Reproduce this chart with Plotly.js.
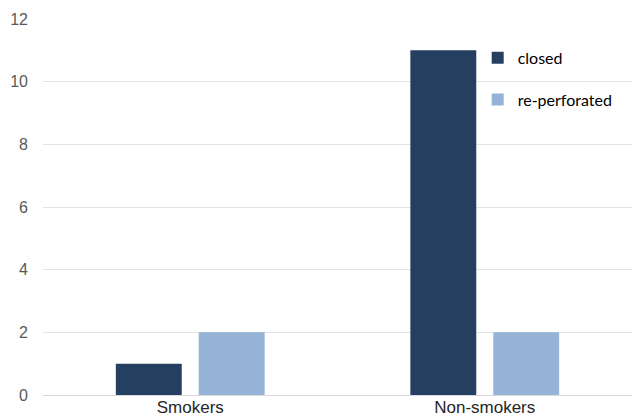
<!DOCTYPE html>
<html>
<head>
<meta charset="utf-8">
<script src="https://cdn.plot.ly/plotly-3.0.1.min.js"></script>
<style>
  html, body { margin: 0; padding: 0; background: #ffffff; }
  #chart { width: 632px; height: 418px; }
</style>
</head>
<body>
<div id="chart"></div>
<script>
// Outcome counts by smoking status
const groups = ["Smokers", "Non-smokers"];
const closedCounts = [1, 11];
const reperforatedCounts = [2, 2];
const yTicks = [0, 2, 4, 6, 8, 10, 12];

const traces = [
  {
    type: "bar",
    name: "closed",
    legendgroup: "a",
    x: groups,
    y: closedCounts,
    marker: { color: "#243F60" },
    hoverinfo: "x+y+name"
  },
  {
    type: "bar",
    name: "re-perforated",
    legendgroup: "b",
    x: groups,
    y: reperforatedCounts,
    marker: { color: "#95B3D7" },
    hoverinfo: "x+y+name"
  }
];

const layout = {
  width: 632,
  height: 418,
  margin: { l: 43, r: 0, t: 19, b: 23 },
  paper_bgcolor: "#ffffff",
  plot_bgcolor: "#ffffff",
  barmode: "group",
  bargap: 0.437,
  bargroupgap: 0.205,
  font: { family: "Liberation Sans, Arial, sans-serif", size: 16, color: "#595959" },
  xaxis: {
    type: "category",
    showgrid: false,
    showline: false,
    ticks: "",
    tickfont: { size: 17, color: "#262626" },
    ticklabelstandoff: 0
  },
  yaxis: {
    range: [0, 12],
    tickvals: yTicks,
    ticktext: yTicks.map(String),
    showgrid: true,
    gridcolor: "#e3e3e3",
    gridwidth: 1,
    zeroline: true,
    zerolinecolor: "#d9d9d9",
    zerolinewidth: 1,
    showline: false,
    ticks: "",
    ticklabelstandoff: 14,
    tickfont: { size: 16, color: "#595959" }
  },
  showlegend: true,
  legend: {
    x: 0.738,
    y: 0.942,
    xanchor: "left",
    yanchor: "top",
    bgcolor: "rgba(255,255,255,0)",
    traceorder: "grouped",
    tracegroupgap: 18,
    itemwidth: 30,
    font: { family: "Lato, Carlito, sans-serif", size: 16, color: "#000000" }
  }
};

Plotly.newPlot("chart", traces, layout, { displayModeBar: false, staticPlot: true });
</script>
</body>
</html>
